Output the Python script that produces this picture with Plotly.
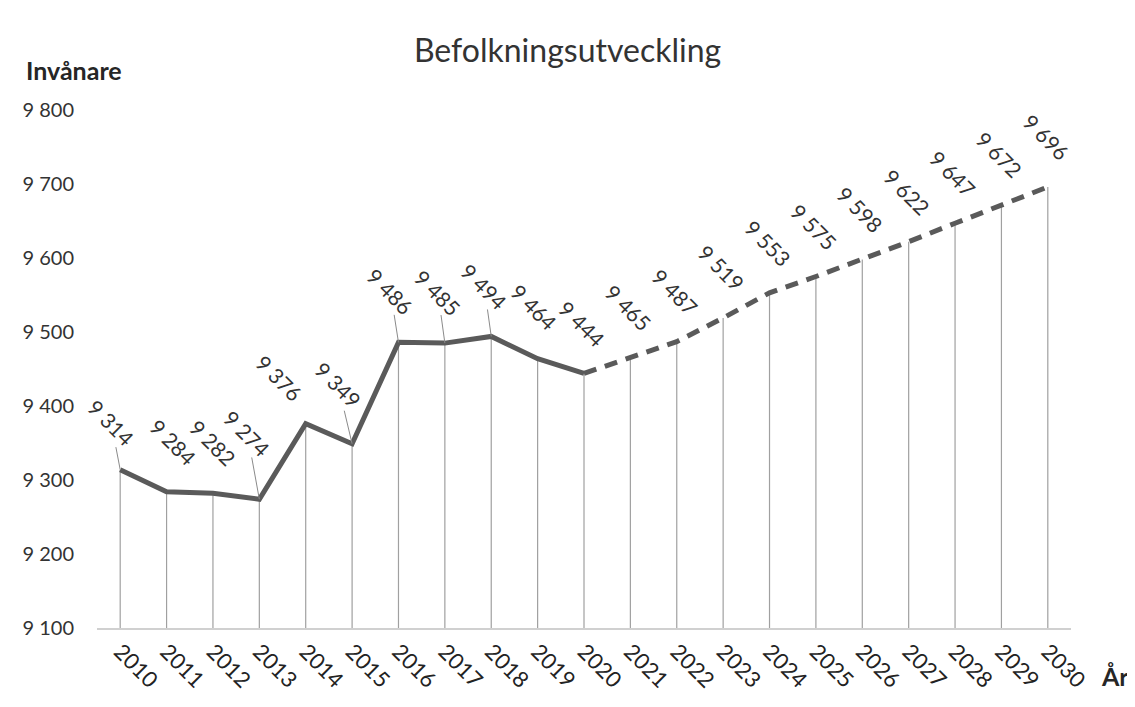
import plotly.graph_objects as go

years = [str(y) for y in range(2010, 2031)]
population = [9314, 9284, 9282, 9274, 9376, 9349, 9486, 9485, 9494, 9464, 9444,
              9465, 9487, 9519, 9553, 9575, 9598, 9622, 9647, 9672, 9696]
split_index = 10  # 2020: last observed year
y_min, y_max = 9100, 9800
y_ticks = [9100, 9200, 9300, 9400, 9500, 9600, 9700, 9800]

# data-label placement (pixel offset of label centre from its point) and
# which labels were dragged away with a leader line in the original
label_offsets = {0: (-9, -47), 1: (6, -50), 2: (0, -51), 3: (-12, -66),
                 4: (-27, -46), 5: (-14, -59), 6: (-8, -51), 7: (-7, -51),
                 8: (-7, -50), 9: (-4, -52), 10: (-2, -50)}
default_offset = (-2, -50)
leader_idx = {0, 3, 5, 6, 7, 8}

FONT = "Lato"
LINE_COLOR = "#5a5a5a"

def fmt(v):
    return f"{v:,}".replace(",", " ")

fig = go.Figure()

# drop lines to axis
fig.add_trace(go.Scatter(
    x=years, y=population, mode="markers",
    marker=dict(size=1, color="rgba(0,0,0,0)"),
    error_y=dict(type="data", symmetric=False,
                 array=[0] * len(population),
                 arrayminus=[v - y_min for v in population],
                 color="#a0a0a0", thickness=1.2, width=0),
    hoverinfo="skip", showlegend=False))

# observed
fig.add_trace(go.Scatter(
    x=years[:split_index + 1], y=population[:split_index + 1], mode="lines",
    line=dict(color=LINE_COLOR, width=5), showlegend=False))
# forecast
fig.add_trace(go.Scatter(
    x=years[split_index:], y=population[split_index:], mode="lines",
    line=dict(color=LINE_COLOR, width=5, dash="13px,9px"), showlegend=False))

for i, v in enumerate(population):
    dx, dy = label_offsets.get(i, default_offset)
    fig.add_annotation(x=i, y=v, xref="x", yref="y", text=fmt(v),
                       showarrow=True, ax=dx, ay=dy, axref="pixel", ayref="pixel",
                       arrowhead=0, arrowwidth=1, standoff=0,
                       arrowcolor="#8a8a8a" if i in leader_idx else "rgba(0,0,0,0)",
                       textangle=45,
                       font=dict(family=FONT, size=21, color="#333333"))

fig.add_annotation(text="<b>Invånare</b>", xref="paper", yref="paper",
                   x=-0.075, y=1.077, xanchor="left", yanchor="middle",
                   showarrow=False, font=dict(family=FONT, size=25, color="#262626"))
fig.add_annotation(text="<b>År</b>", xref="paper", yref="paper",
                   x=1.029, y=-0.093, xanchor="left", yanchor="middle",
                   showarrow=False, font=dict(family=FONT, size=25, color="#262626"))

fig.update_layout(
    width=1135, height=707,
    paper_bgcolor="white", plot_bgcolor="white",
    margin=dict(l=89, r=72, t=102, b=87, autoexpand=False),
    separators=", ",
    title=dict(text="Befolkningsutveckling", x=0.493, xanchor="center",
               y=0.94, yanchor="middle",
               font=dict(family=FONT, size=32, color="#333333")),
    font=dict(family=FONT, color="#333333"),
    xaxis=dict(type="category", tickangle=45, showgrid=False, ticks="",
               range=[-0.5, len(years) - 0.5], automargin=False,
               showline=True, linecolor="#d0d0d0", linewidth=2,
               tickfont=dict(family=FONT, size=22, color="#222222")),
    yaxis=dict(range=[y_min, y_max], tickvals=y_ticks, tickformat=",d",
               showgrid=False, zeroline=False, showline=False,
               ticklabelstandoff=22, automargin=False,
               tickfont=dict(family=FONT, size=20, color="#333333")),
)

fig.write_html("out.html")
